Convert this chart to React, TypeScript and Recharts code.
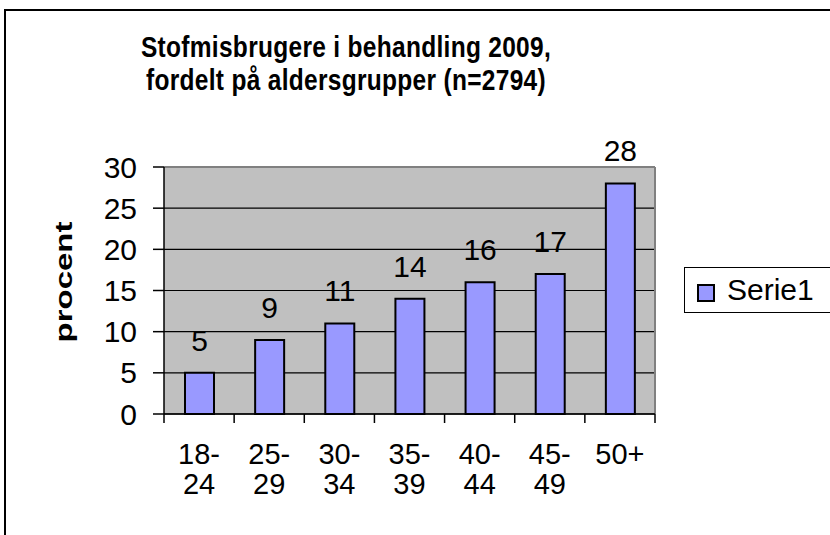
import React from 'react';
import {
  BarChart,
  Bar,
  XAxis,
  YAxis,
  CartesianGrid,
  Legend,
  LabelList,
  ReferenceLine,
} from 'recharts';

const categories = ['18-24', '25-29', '30-34', '35-39', '40-44', '45-49', '50+'];
const values = [5, 9, 11, 14, 16, 17, 28];
const yTicks = [0, 5, 10, 15, 20, 25, 30];
const seriesName = 'Serie1';
const titleLines = ['Stofmisbrugere i behandling 2009,', 'fordelt på aldersgrupper (n=2794)'];
const yLabel = 'procent';

const data = categories.map((c, i) => ({ group: c, value: values[i] }));

const FONT = '"Liberation Sans", Arial, sans-serif';
const LEGEND_W = 180;

// two-line category label, plus tick marks on the band edges
function CategoryTick(props: any) {
  const { x, y, payload, index } = props;
  const label: string = payload.value;
  const half: number = payload.offset || 0;
  const dash = label.indexOf('-');
  const parts = dash >= 0 ? [label.slice(0, dash + 1), label.slice(dash + 1)] : [label];
  const last = index === categories.length - 1;
  return (
    <g>
      <line x1={x - half} x2={x - half} y1={y} y2={y + 9} stroke="#000" strokeWidth={1.5} />
      {last && (
        <line x1={x + half} x2={x + half} y1={y} y2={y + 9} stroke="#000" strokeWidth={1.5} />
      )}
      {parts.map((p, i) => (
        <text
          key={i}
          x={x}
          y={y + 50 + i * 30}
          textAnchor="middle"
          fontSize={29}
          fill="#000"
          fontFamily={FONT}
        >
          {p}
        </text>
      ))}
    </g>
  );
}

function YTitle() {
  return (
    <text
      x={63}
      y={282}
      transform="rotate(-90, 63, 282)"
      textAnchor="middle"
      dominantBaseline="central"
      fontSize={24}
      fontWeight="bold"
      fontFamily={FONT}
      textLength={121}
      lengthAdjust="spacingAndGlyphs"
      fill="#000"
    >
      {yLabel}
    </text>
  );
}

function LegendBox() {
  return (
    <div
      style={{
        width: 170,
        height: 44,
        border: '1px solid #000',
        background: '#fff',
        display: 'flex',
        alignItems: 'center',
        fontFamily: FONT,
        fontSize: 30,
        boxSizing: 'content-box',
      }}
    >
      <span
        style={{
          display: 'inline-block',
          width: 14,
          height: 14,
          background: '#9999FF',
          border: '2px solid #000',
          marginLeft: 12,
          marginRight: 12,
          marginTop: 6,
        }}
      />
      <span>{seriesName}</span>
    </div>
  );
}

export default function App() {
  return (
    <div
      style={{
        position: 'absolute',
        left: 0,
        top: 0,
        width: 830,
        height: 535,
        overflow: 'hidden',
        background: '#fff',
      }}
    >
      <div
        style={{
          position: 'absolute',
          left: 4,
          top: 9,
          width: 900,
          height: 600,
          border: '2px solid #000',
        }}
      />
      <div
        style={{
          position: 'absolute',
          left: 0,
          top: 31,
          width: 692,
          textAlign: 'center',
          fontFamily: FONT,
          fontWeight: 'bold',
          fontSize: 24.5,
          letterSpacing: 0.3,
          lineHeight: '28px',
          transform: 'scaleY(1.18)',
          transformOrigin: 'top',
        }}
      >
        {titleLines.map((t) => (
          <div key={t}>{t}</div>
        ))}
      </div>
      <BarChart
        width={830}
        height={535}
        data={data}
        margin={{ top: 167, right: 175 - LEGEND_W, bottom: 61, left: 0 }}
        style={{ position: 'absolute', left: 0, top: 0 }}
      >
        <CartesianGrid vertical={false} fill="#C0C0C0" stroke="#000" strokeWidth={1.2} />
        <XAxis
          dataKey="group"
          height={60}
          axisLine={{ stroke: '#000', strokeWidth: 1.5 }}
          tickLine={false}
          tickSize={0}
          tickMargin={0}
          interval={0}
          tick={<CategoryTick />}
        />
        <YAxis
          width={164}
          domain={[0, 30]}
          ticks={yTicks}
          interval={0}
          axisLine={{ stroke: '#000', strokeWidth: 1.5 }}
          tickLine={{ stroke: '#000', strokeWidth: 1.5 }}
          tickSize={11}
          tickMargin={16}
          tick={{ fontSize: 30, fill: '#000', fontFamily: FONT }}
          label={<YTitle />}
        />
        <ReferenceLine y={30} stroke="#808080" strokeWidth={2} />
        <ReferenceLine x="50+" position="end" stroke="#808080" strokeWidth={2} />
        <Legend
          layout="horizontal"
          verticalAlign="middle"
          align="right"
          content={<LegendBox />}
          wrapperStyle={{ left: 684, top: 267, width: LEGEND_W }}
        />
        <Bar
          dataKey="value"
          name={seriesName}
          fill="#9999FF"
          stroke="#000"
          strokeWidth={2}
          barSize={29}
          isAnimationActive={false}
        >
          <LabelList
            dataKey="value"
            position="top"
            offset={22}
            fill="#000"
            fontSize={30}
            fontFamily={FONT}
          />
        </Bar>
      </BarChart>
    </div>
  );
}
